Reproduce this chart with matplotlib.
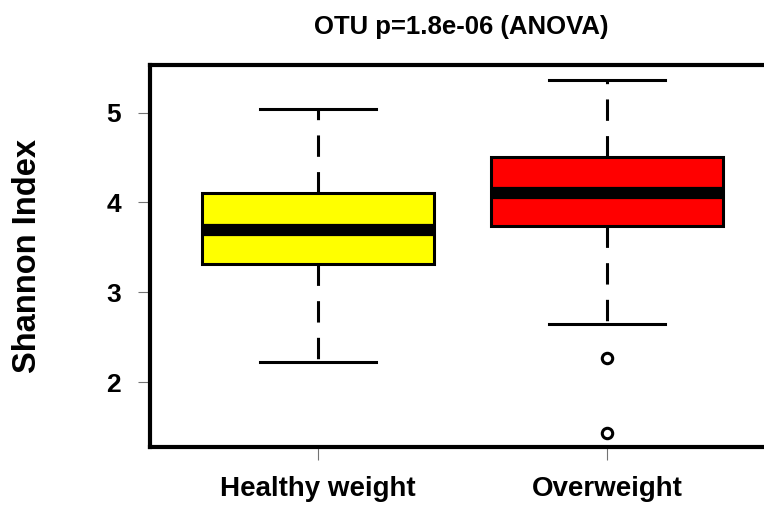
import matplotlib
matplotlib.use("Agg")
import matplotlib.pyplot as plt

# Shannon diversity summary per BMI group
groups = ["Healthy weight", "Overweight"]
box_colors = ["#ffff00", "#ff0000"]
whisker_low = [2.23, 2.65]
q1 = [3.32, 3.74]
medians = [3.69, 4.10]
q3 = [4.11, 4.50]
whisker_high = [5.04, 5.36]
outliers = [[], [2.27, 1.44]]
yticks = [2, 3, 4, 5]
title = "OTU p=1.8e-06 (ANOVA)"

plt.rcParams["font.family"] = ["Liberation Sans", "DejaVu Sans"]

fig = plt.figure(figsize=(7.64, 5.05), dpi=100)
ax = fig.add_axes([0.1963, 0.1149, 0.818, 0.7564])

stats = []
for i, g in enumerate(groups):
    stats.append({
        "label": g,
        "whislo": whisker_low[i],
        "q1": q1[i],
        "med": medians[i],
        "q3": q3[i],
        "whishi": whisker_high[i],
        "fliers": outliers[i],
    })

bp = ax.bxp(
    stats, positions=[1, 2], widths=0.8, patch_artist=True,
    showfliers=True, capwidths=0.4,
    boxprops=dict(linewidth=2.2, edgecolor="black"),
    medianprops=dict(color="black", linewidth=8.8, solid_capstyle="butt"),
    whiskerprops=dict(color="black", linewidth=2.2, linestyle=(0, (7, 5))),
    capprops=dict(color="black", linewidth=2.2),
    flierprops=dict(marker="o", markerfacecolor="none", markeredgecolor="black",
                    markersize=7.5, markeredgewidth=2.2),
)
for patch, c in zip(bp["boxes"], box_colors):
    patch.set_facecolor(c)

ax.set_xlim(0.42, 2.58)
ax.set_ylim(1.283, 5.528)
ax.set_yticks(yticks)
ax.set_yticklabels([str(t) for t in yticks], fontsize=19, fontweight="bold")
ax.set_xticks([1, 2])
ax.set_xticklabels(groups, fontsize=20, fontweight="bold")
ax.tick_params(axis="both", direction="out", length=9, width=0.8, color="0.45")
ax.tick_params(axis="y", pad=12)
ax.tick_params(axis="x", pad=12)

for s in ax.spines.values():
    s.set_linewidth(3)

fig.text(27 / 764, 0.494, "Shannon Index", rotation=90, ha="center", va="center",
         fontsize=23.5, fontweight="bold")
fig.text(461 / 764, 0.9465, title, ha="center", va="center",
         fontsize=18.5, fontweight="bold")

fig.savefig("out.png", dpi=100)
